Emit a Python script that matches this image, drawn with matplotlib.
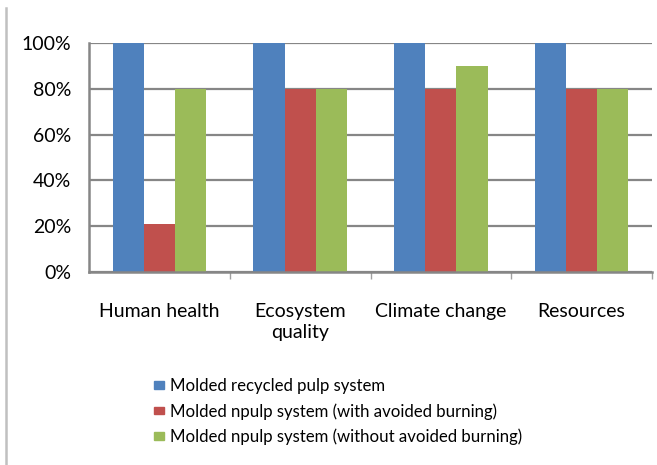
import matplotlib
matplotlib.use("Agg")
import matplotlib.pyplot as plt
import numpy as np
from matplotlib.ticker import FuncFormatter
from matplotlib.lines import Line2D

categories = ["Human health", "Ecosystem\nquality", "Climate change", "Resources"]
series_names = ["Molded recycled pulp system",
                "Molded npulp system (with avoided burning)",
                "Molded npulp system (without avoided burning)"]
recycled = [100, 100, 100, 100]
with_burning = [21, 80, 80, 80]
without_burning = [80, 80, 90, 80]
yticks = [0, 20, 40, 60, 80, 100]

colors = ["#4F81BD", "#C0504D", "#9BBB59"]
grid_color = "#868686"

plt.rcParams['font.family'] = ['Lato', 'DejaVu Sans']

fig = plt.figure(figsize=(6.57, 4.65), dpi=100)
ax = fig.add_axes([89/657, 1-272/465, (652-89)/657, (272-43)/465])

x = np.arange(len(categories))
w = 0.222
for i, (vals, c, name) in enumerate(zip([recycled, with_burning, without_burning], colors, series_names)):
    ax.bar(x + (i-1)*w, vals, width=w, color=c, label=name, zorder=1)

ax.set_xlim(-0.5, len(categories)-0.5)
ax.set_ylim(0, 100)
ax.set_yticks(yticks)
ax.yaxis.set_major_formatter(FuncFormatter(lambda v, p: f"{int(v)}%"))
ax.grid(axis='y', color=grid_color, linewidth=1.6, zorder=0)
ax.set_axisbelow(True)
for s in ['top', 'right']:
    ax.spines[s].set_visible(False)
for s in ['left', 'bottom']:
    ax.spines[s].set_color(grid_color)
    ax.spines[s].set_linewidth(1.8)
ax.tick_params(axis='y', length=0, pad=13, labelsize=14, labelcolor='#000000')
ax.set_xticks(x)
ax.set_xticklabels(categories, fontsize=14, linespacing=1.35, va='top')
ax.tick_params(axis='x', which='major', length=0, pad=22)
ax.set_xticks(np.arange(len(categories)) + 0.5, minor=True)
ax.tick_params(axis='x', which='minor', length=5, width=1, color='#a0a0a0', direction='out')

handles = [plt.Rectangle((0, 0), 1, 1, color=c) for c in colors]
fig.legend(handles, series_names, loc='upper left', bbox_to_anchor=(147/657, 1-371/465),
           frameon=False, fontsize=12.1, handlelength=0.62, handleheight=0.35,
           handletextpad=0.35, labelspacing=0.55, borderaxespad=0)

fig.add_artist(Line2D([6/657, 6/657], [0, 1-8/465], color='#c0c0c0', linewidth=1.8))

fig.savefig("out.png", dpi=100)
